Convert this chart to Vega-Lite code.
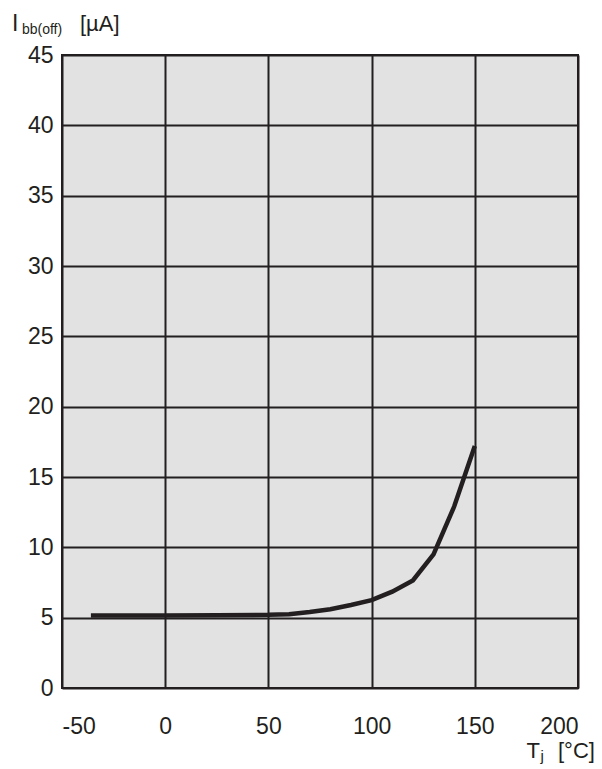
{
  "$schema": "https://vega.github.io/schema/vega-lite/v6.json",
  "width": 516,
  "height": 633,
  "autosize": {"type": "none"},
  "padding": {"left": 62, "top": 55, "right": 24, "bottom": 81},
  "background": "white",
  "config": {
    "view": {"fill": "#e1e2e1", "stroke": "#231f20", "strokeWidth": 2},
    "font": "Liberation Sans"
  },
  "layer": [
    {
      "data": {
        "values": [
          {"T": -36, "I": 5.15},
          {"T": 0, "I": 5.15},
          {"T": 25, "I": 5.17},
          {"T": 50, "I": 5.2},
          {"T": 60, "I": 5.25},
          {"T": 70, "I": 5.4},
          {"T": 80, "I": 5.6},
          {"T": 90, "I": 5.9},
          {"T": 100, "I": 6.25},
          {"T": 110, "I": 6.85},
          {"T": 120, "I": 7.65},
          {"T": 130, "I": 9.5},
          {"T": 140, "I": 12.9},
          {"T": 150, "I": 17.2}
        ]
      },
      "mark": {"type": "line", "color": "#231f20", "strokeWidth": 4.5, "clip": false},
      "encoding": {
        "x": {
          "field": "T", "type": "quantitative",
          "scale": {"domain": [-50, 200], "nice": false, "zero": false},
          "axis": {
            "values": [-50, 0, 50, 100, 150, 200],
            "labelExpr": "'' + datum.value",
            "grid": true, "gridColor": "#231f20", "gridWidth": 2, "gridOpacity": 1,
            "domain": false, "ticks": false,
            "labelFontSize": 23, "labelColor": "#231f20", "labelPadding": 27,
            "labelFont": "Liberation Sans",
            "title": null
          }
        },
        "y": {
          "field": "I", "type": "quantitative",
          "scale": {"domain": [0, 45], "nice": false},
          "axis": {
            "values": [0, 5, 10, 15, 20, 25, 30, 35, 40, 45],
            "grid": true, "gridColor": "#231f20", "gridWidth": 2, "gridOpacity": 1,
            "domain": false, "ticks": false,
            "labelFontSize": 23, "labelColor": "#231f20", "labelPadding": 9,
            "labelFont": "Liberation Sans",
            "title": null
          }
        }
      }
    },
    {
      "data": {"values": [{}]},
      "mark": {"type": "text", "text": "I", "fontSize": 23, "align": "left", "baseline": "alphabetic", "color": "#231f20", "clip": false},
      "encoding": {"x": {"datum": -74.2}, "y": {"datum": 46.7}}
    },
    {
      "data": {"values": [{}]},
      "mark": {"type": "text", "text": "bb(off)", "fontSize": 14, "align": "left", "baseline": "alphabetic", "color": "#231f20", "clip": false},
      "encoding": {"x": {"datum": -69.4}, "y": {"datum": 46.49}}
    },
    {
      "data": {"values": [{}]},
      "mark": {"type": "text", "text": "[µA]", "fontSize": 22, "align": "left", "baseline": "alphabetic", "color": "#231f20", "clip": false},
      "encoding": {"x": {"datum": -41.3}, "y": {"datum": 46.7}}
    },
    {
      "data": {"values": [{}]},
      "mark": {"type": "text", "text": "T", "fontSize": 22, "align": "left", "baseline": "alphabetic", "color": "#231f20", "clip": false},
      "encoding": {"x": {"datum": 175.0}, "y": {"datum": -4.98}}
    },
    {
      "data": {"values": [{}]},
      "mark": {"type": "text", "text": "j", "fontSize": 15, "align": "left", "baseline": "alphabetic", "color": "#231f20", "clip": false},
      "encoding": {"x": {"datum": 181.8}, "y": {"datum": -5.19}}
    },
    {
      "data": {"values": [{}]},
      "mark": {"type": "text", "text": "[°C]", "fontSize": 22, "align": "left", "baseline": "alphabetic", "color": "#231f20", "clip": false},
      "encoding": {"x": {"datum": 190.3}, "y": {"datum": -4.98}}
    }
  ]
}
